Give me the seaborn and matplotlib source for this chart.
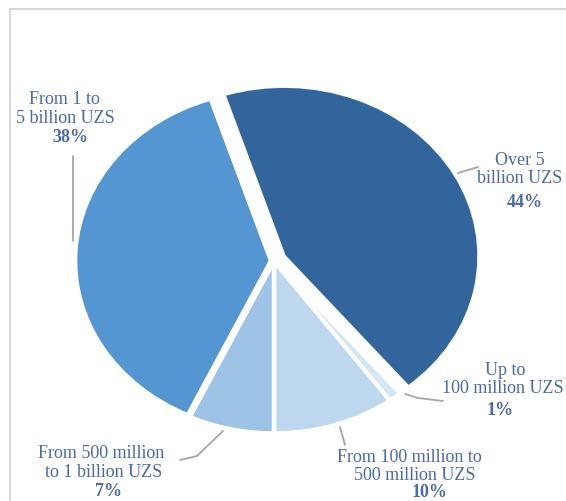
import matplotlib
matplotlib.use("Agg")
import matplotlib.pyplot as plt
import seaborn as sns
from matplotlib.patches import Rectangle

# Loan size groups (clockwise from the top) and their share of the total
categories = [
    "Over 5\nbillion UZS",
    "Up to\n100 million UZS",
    "From 100 million to\n500 million UZS",
    "From 500 million\nto 1 billion UZS",
    "From 1 to\n5 billion UZS",
]
shares = [44, 1, 10, 7, 38]
slice_colors = ["#32659c", "#d6e5f4", "#bdd7ee", "#9dc3e6", "#5496d2"]

sns.set_theme(style="white")
plt.rcParams["font.family"] = ["Liberation Serif", "DejaVu Serif"]

W, H = 566, 502
SX = 1.147          # horizontal stretch of the pie (drawn as an ellipse)
TEXT_COLOR = "#4a6aa8"
LINE_COLOR = "#a6a6a6"

fig = plt.figure(figsize=(W / 100, H / 100), dpi=100)
fig.patch.set_facecolor("white")
ax = fig.add_axes([0, 0, 1, 1])


def px(x, y):
    """Pixel position (origin top-left) -> data coordinates."""
    return x / SX, H - y


cx, cy = px(274, 262)
ax.pie(
    shares,
    colors=sns.color_palette(slice_colors),
    startangle=108,
    counterclock=False,
    radius=170,
    center=(cx, cy),
    explode=[10, 2, 2, 2, 3],
    wedgeprops=dict(edgecolor="white", linewidth=2.5),
)
ax.set_aspect("auto")
ax.set_xlim(0, W / SX)
ax.set_ylim(0, H)
ax.axis("off")

# label placement: (name line anchors, percent anchor, leader line points) in pixels
label_layout = [
    ([(520, 165), (520, 183)], (525, 207), [(458, 174), (478, 168)]),
    ([(505, 375), (503, 393)], (500, 415), [(405, 395), (418, 399), (443, 402)]),
    ([(409, 462), (415, 480)], (430, 497), [(340, 428), (345, 446)]),
    ([(101, 458), (104, 477)], (109, 496), [(223, 432), (197, 457), (180, 461)]),
    ([(64, 104), (65, 123)], (70, 142), [(73, 157), (73, 242)]),
]

for name, share, (line_pos, pct_pos, leader) in zip(categories, shares, label_layout):
    for text, (x, y) in zip(name.split("\n"), line_pos):
        ax.text(*px(x, y), text, ha="center", va="baseline",
                fontsize=13, color=TEXT_COLOR)
    ax.text(*px(*pct_pos), f"{share}%", ha="center", va="baseline",
            fontsize=13, fontweight="bold", color=TEXT_COLOR)
    lx, ly = zip(*[px(x, y) for x, y in leader])
    ax.plot(lx, ly, color=LINE_COLOR, lw=1.3, solid_capstyle="round")

# chart area border (open to the right and bottom)
fig.patches.append(Rectangle((10 / W, -0.05), 1.1, (H - 10) / H + 0.05,
                             transform=fig.transFigure, fill=False,
                             edgecolor="#d9d9d9", linewidth=1.5))

fig.savefig("out.png", dpi=100, facecolor="white")
